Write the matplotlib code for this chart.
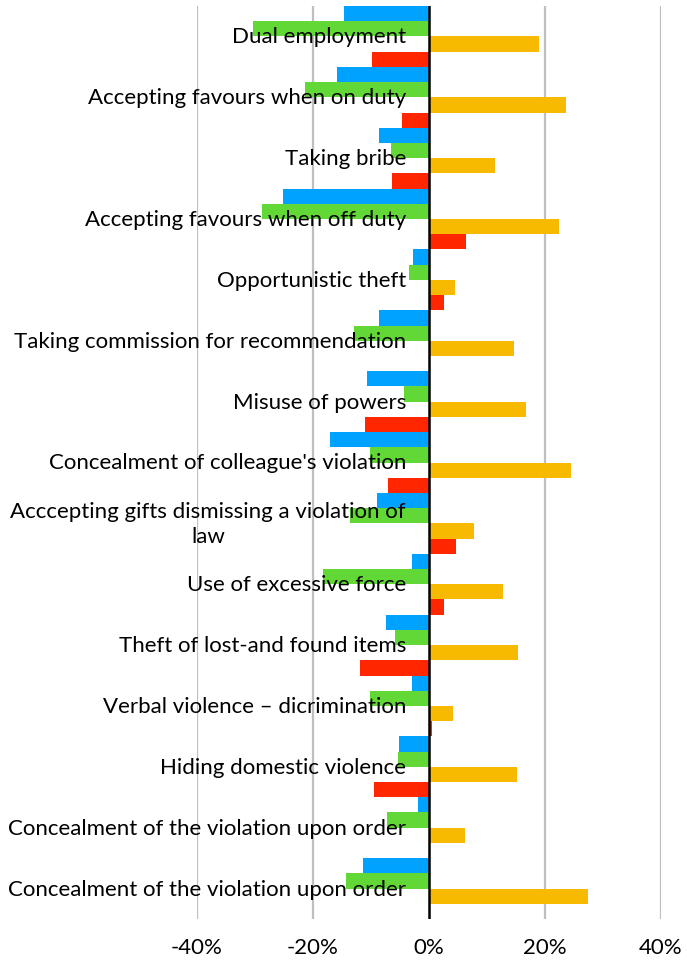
import matplotlib
matplotlib.use("Agg")
import matplotlib.pyplot as plt
import numpy as np
from matplotlib.ticker import FixedLocator, FuncFormatter

categories = [
    "Dual employment",
    "Accepting favours when on duty",
    "Taking bribe",
    "Accepting favours when off duty",
    "Opportunistic theft",
    "Taking commission for recommendation",
    "Misuse of powers",
    "Concealment of colleague's violation",
    "Acccepting gifts dismissing a violation of\nlaw",
    "Use of excessive force",
    "Theft of lost-and found items",
    "Verbal violence \u2013 dicrimination",
    "Hiding domestic violence",
    "Concealment of the violation upon order",
    "Concealment of the violation upon order",
]
blue = [-14.6, -15.9, -8.7, -25.1, -2.8, -8.6, -10.7, -17.1, -8.9, -3.0, -7.4, -3.0, -5.1, -1.9, -11.4]
green = [-30.3, -21.3, -6.5, -28.8, -3.4, -12.9, -4.3, -10.1, -13.7, -18.3, -5.9, -10.2, -5.4, -7.3, -14.3]
orange = [19.0, 23.7, 11.3, 22.4, 4.4, 14.7, 16.8, 24.5, 7.7, 12.7, 15.3, 4.1, 15.1, 6.2, 27.4]
red = [-9.9, -4.6, -6.3, 6.3, 2.5, 0.0, -11.0, -7.0, 4.7, 2.5, -11.9, 0.6, -9.5, 0.0, 0.0]
xticks = [-40, -20, 0, 20, 40]

plt.rcParams['font.family'] = ['Lato', 'DejaVu Sans']

W, H = 687, 962
fig = plt.figure(figsize=(W / 100, H / 100), dpi=100)
ax = fig.add_axes([197 / W, 1 - 920 / H, (661 - 197) / W, (920 - 7) / H])

y = np.arange(len(categories))
h = 0.25
series = [(blue, "#00A2FF"), (green, "#61D836"), (orange, "#F8BA00"), (red, "#FF2600")]
for k, (vals, col) in enumerate(series):
    ax.barh(y + (k - 1.5) * h, vals, height=h, color=col, zorder=2)

ax.set_xlim(-40, 40)
ax.set_ylim(len(categories) - 0.5, -0.5)
ax.xaxis.set_major_locator(FixedLocator(xticks))
ax.xaxis.set_major_formatter(FuncFormatter(lambda v, p: f"{int(v)}%"))
ax.tick_params(axis='x', length=0, labelsize=16, pad=13, labelcolor='black')
ax.set_yticks([])
for s in ax.spines.values():
    s.set_visible(False)

for xv in xticks:
    if xv != 0:
        ax.axvline(xv, color="#BFBFBF", lw=1.6, zorder=1)
ax.axvline(0, color="black", lw=1.8, zorder=4)

for i, c in enumerate(categories):
    ax.annotate(c, xy=(0, i), xytext=(-23, 0), textcoords='offset pixels',
                ha='right', va='center', multialignment='center',
                fontsize=16, color='black', zorder=5, annotation_clip=False,
                linespacing=1.35)

fig.savefig("out.png", dpi=100)
